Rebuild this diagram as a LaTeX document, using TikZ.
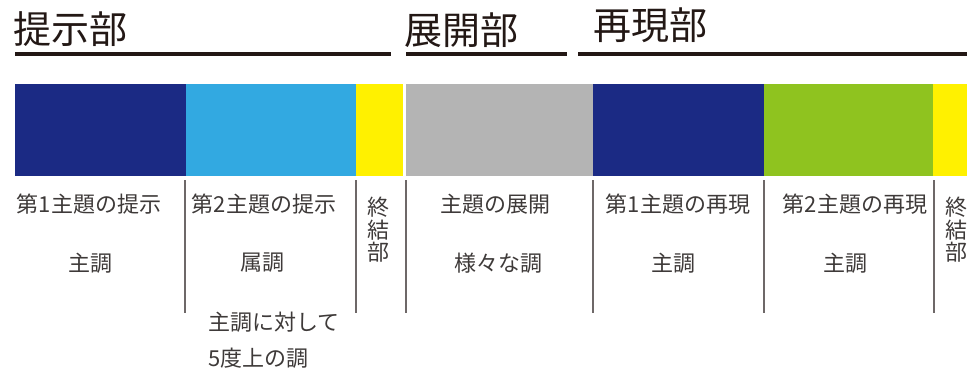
\documentclass[tikz,border=0pt]{standalone}
\usepackage{fontspec}
\newfontfamily\jpfont{Noto Sans CJK JP}
\definecolor{navy}{HTML}{1B2A84}
\definecolor{skyb}{HTML}{32A9E1}
\definecolor{yel}{HTML}{FFF100}
\definecolor{gry}{HTML}{B4B4B4}
\definecolor{grn}{HTML}{8FC31F}
\definecolor{txt}{HTML}{3E3A39}
\definecolor{rulec}{HTML}{231815}
\definecolor{sepc}{HTML}{6E6868}
\begin{document}
\begin{tikzpicture}[x=1pt,y=-1pt,
  header/.style={anchor=west,inner sep=0pt,font=\jpfont\fontsize{38}{42}\selectfont,text=rulec},
  lbl/.style={anchor=center,inner sep=0pt,font=\jpfont\fontsize{22}{22.5}\selectfont,text=txt},
  vlbl/.style={lbl,align=center},
  hrule/.style={draw=rulec,line width=4pt},
  sep/.style={draw=sepc,line width=1.3pt},
  bar/.style={inner sep=0pt,outer sep=0pt}]
\useasboundingbox (0,0) rectangle (967,369);
% headers
\node[header] (h1) at (13,29) {提示部};
\node[header] (h2) at (404,30) {展開部};
\node[header] (h3) at (593,25) {再現部};
\draw[hrule] (15,54) -- (391,54);
\draw[hrule] (406,54) -- (567,54);
\draw[hrule] (578,54) -- (967,54);
% bars
\fill[navy] (15,84) rectangle (186,176);
\fill[skyb] (186,84) rectangle (356,176);
\fill[yel] (356,84) rectangle (403,176);
\fill[gry] (406,84) rectangle (593,176);
\fill[navy] (593,84) rectangle (764,176);
\fill[grn] (764,84) rectangle (933,176);
\fill[yel] (933,84) rectangle (967,176);
% separators
\foreach \x in {185,356,406,593,764,934} \draw[sep] (\x,180) -- (\x,313);
% labels
\node[lbl] (a1) at (89,204) {第1主題の提示};
\node[lbl] (a2) at (90,263) {主調};
\node[lbl] (b1) at (264,204) {第2主題の提示};
\node[lbl] (b2) at (262,263) {属調};
\node[lbl,anchor=west] (b3) at (208,322) {主調に対して};
\node[lbl,anchor=west] (b4) at (208,358) {5度上の調};
\node[vlbl] (c1) at (378,230) {終\\結\\部};
\node[lbl] (d1) at (495,204) {主題の展開};
\node[lbl] (d2) at (498,263) {様々な調};
\node[lbl] (e1) at (678,204) {第1主題の再現};
\node[lbl] (e2) at (673,263) {主調};
\node[lbl] (f1) at (855,204) {第2主題の再現};
\node[lbl] (f2) at (845,263) {主調};
\node[vlbl] (g1) at (956,230) {終\\結\\部};
\end{tikzpicture}
\end{document}
